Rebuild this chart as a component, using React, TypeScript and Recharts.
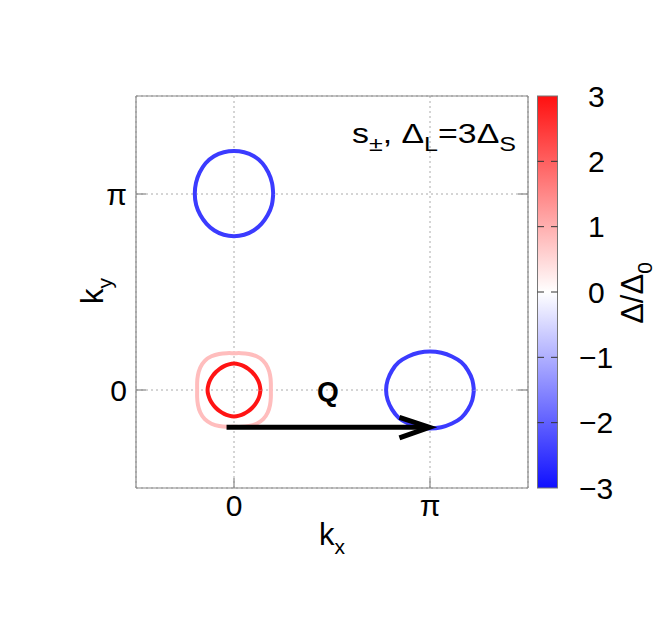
import React from 'react';
import { ScatterChart, Scatter, XAxis, YAxis, CartesianGrid } from 'recharts';

// k values are in units of pi
const upperBluePocket = [
  { kx: 0.2, ky: 1.0 }, { kx: 0.194, ky: 1.057 }, { kx: 0.175, ky: 1.11 }, { kx: 0.145, ky: 1.157 },
  { kx: 0.102, ky: 1.193 }, { kx: 0.052, ky: 1.213 }, { kx: 0, ky: 1.219 }, { kx: -0.052, ky: 1.213 },
  { kx: -0.102, ky: 1.193 }, { kx: -0.145, ky: 1.157 }, { kx: -0.175, ky: 1.11 }, { kx: -0.194, ky: 1.057 },
  { kx: -0.2, ky: 1.0 }, { kx: -0.193, ky: 0.944 }, { kx: -0.172, ky: 0.893 }, { kx: -0.14, ky: 0.848 },
  { kx: -0.1, ky: 0.814 }, { kx: -0.052, ky: 0.792 }, { kx: 0, ky: 0.785 }, { kx: 0.052, ky: 0.792 },
  { kx: 0.1, ky: 0.814 }, { kx: 0.14, ky: 0.848 }, { kx: 0.172, ky: 0.893 }, { kx: 0.193, ky: 0.944 },
  { kx: 0.2, ky: 1.0 },
];

const rightBluePocket = [
  { kx: 1.224, ky: 0 }, { kx: 1.216, ky: 0.051 }, { kx: 1.194, ky: 0.099 }, { kx: 1.16, ky: 0.141 },
  { kx: 1.112, ky: 0.171 }, { kx: 1.058, ky: 0.19 }, { kx: 1.0, ky: 0.197 }, { kx: 0.942, ky: 0.19 },
  { kx: 0.888, ky: 0.171 }, { kx: 0.84, ky: 0.141 }, { kx: 0.806, ky: 0.099 }, { kx: 0.784, ky: 0.051 },
  { kx: 0.776, ky: 0 }, { kx: 0.784, ky: -0.051 }, { kx: 0.806, ky: -0.099 }, { kx: 0.84, ky: -0.141 },
  { kx: 0.888, ky: -0.171 }, { kx: 0.942, ky: -0.19 }, { kx: 1.0, ky: -0.196 }, { kx: 1.058, ky: -0.19 },
  { kx: 1.112, ky: -0.171 }, { kx: 1.16, ky: -0.141 }, { kx: 1.194, ky: -0.099 }, { kx: 1.216, ky: -0.051 },
  { kx: 1.224, ky: 0 },
];

const innerRedPocket = [
  { kx: 0.135, ky: 0 }, { kx: 0.131, ky: 0.026 }, { kx: 0.122, ky: 0.05 }, { kx: 0.108, ky: 0.073 },
  { kx: 0.092, ky: 0.092 }, { kx: 0.073, ky: 0.108 }, { kx: 0.05, ky: 0.122 }, { kx: 0.026, ky: 0.131 },
  { kx: 0, ky: 0.135 }, { kx: -0.026, ky: 0.131 }, { kx: -0.05, ky: 0.122 }, { kx: -0.073, ky: 0.108 },
  { kx: -0.092, ky: 0.092 }, { kx: -0.108, ky: 0.073 }, { kx: -0.122, ky: 0.05 }, { kx: -0.131, ky: 0.026 },
  { kx: -0.135, ky: 0 }, { kx: -0.131, ky: -0.026 }, { kx: -0.122, ky: -0.05 }, { kx: -0.108, ky: -0.073 },
  { kx: -0.092, ky: -0.092 }, { kx: -0.073, ky: -0.108 }, { kx: -0.05, ky: -0.122 }, { kx: -0.026, ky: -0.131 },
  { kx: 0, ky: -0.135 }, { kx: 0.026, ky: -0.131 }, { kx: 0.05, ky: -0.122 }, { kx: 0.073, ky: -0.108 },
  { kx: 0.092, ky: -0.092 }, { kx: 0.108, ky: -0.073 }, { kx: 0.122, ky: -0.05 }, { kx: 0.131, ky: -0.026 },
  { kx: 0.135, ky: 0 },
];

const outerPinkPocket = [
  { kx: 0.188, ky: 0 }, { kx: 0.188, ky: 0.037 }, { kx: 0.184, ky: 0.076 }, { kx: 0.172, ky: 0.115 },
  { kx: 0.149, ky: 0.149 }, { kx: 0.115, ky: 0.172 }, { kx: 0.076, ky: 0.184 }, { kx: 0.037, ky: 0.188 },
  { kx: 0, ky: 0.188 }, { kx: -0.037, ky: 0.188 }, { kx: -0.076, ky: 0.184 }, { kx: -0.115, ky: 0.172 },
  { kx: -0.149, ky: 0.149 }, { kx: -0.172, ky: 0.115 }, { kx: -0.184, ky: 0.076 }, { kx: -0.188, ky: 0.037 },
  { kx: -0.188, ky: 0 }, { kx: -0.188, ky: -0.037 }, { kx: -0.184, ky: -0.076 }, { kx: -0.172, ky: -0.115 },
  { kx: -0.149, ky: -0.149 }, { kx: -0.115, ky: -0.172 }, { kx: -0.076, ky: -0.184 }, { kx: -0.037, ky: -0.188 },
  { kx: 0, ky: -0.188 }, { kx: 0.037, ky: -0.188 }, { kx: 0.076, ky: -0.184 }, { kx: 0.115, ky: -0.172 },
  { kx: 0.149, ky: -0.149 }, { kx: 0.172, ky: -0.115 }, { kx: 0.184, ky: -0.076 }, { kx: 0.188, ky: -0.037 },
  { kx: 0.188, ky: 0 },
];

const arrowShaft = [{ kx: -0.038, ky: -0.19 }, { kx: 0.985, ky: -0.19 }];
const arrowHead = [{ kx: 0.844, ky: -0.14 }, { kx: 0.997, ky: -0.19 }, { kx: 0.844, ky: -0.244 }];

const kTicks = [0, 1];
const kTickLabels = ['0', 'π'];
const colorbarTicks = [3, 2, 1, 0, -1, -2, -3];

const FONT = '"Liberation Sans", Arial, sans-serif';
const FRAME = '#888888';

const noDot = () => <g />;

const BottomTick = (props: any) => {
  const { x, y, payload } = props;
  return (
    <g>
      <line x1={x} y1={y} x2={x} y2={y - 10} stroke={FRAME} strokeWidth={1.2} />
      <text x={x} y={y + 28} textAnchor="middle" fontSize={30} fontFamily={FONT} fill="#000">
        {kTickLabels[kTicks.indexOf(payload.value)]}
      </text>
    </g>
  );
};

const TopTick = (props: any) => (
  <line x1={props.x} y1={props.y} x2={props.x} y2={props.y + 10} stroke={FRAME} strokeWidth={1.2} />
);

const LeftTick = (props: any) => {
  const { x, y, payload } = props;
  return (
    <g>
      <line x1={x} y1={y} x2={x + 10} y2={y} stroke={FRAME} strokeWidth={1.2} />
      <text x={x - 9} y={y + 11} textAnchor="end" fontSize={30} fontFamily={FONT} fill="#000">
        {kTickLabels[kTicks.indexOf(payload.value)]}
      </text>
    </g>
  );
};

const RightTick = (props: any) => (
  <line x1={props.x} y1={props.y} x2={props.x - 10} y2={props.y} stroke={FRAME} strokeWidth={1.2} />
);

const cbTop = 96;
const cbHeight = 392;
const cbY = (v: number) => cbTop + ((3 - v) / 6) * cbHeight;

export default function App() {
  return (
    <div style={{ position: 'absolute', left: 0, top: 0, width: 664, height: 620, background: '#fff' }}>
      <ScatterChart width={664} height={620} margin={{ top: 86, right: 126, bottom: 92, left: 76 }}>
        <CartesianGrid stroke="#aaaaaa" strokeDasharray="2 3" strokeWidth={1} />
        <XAxis
          type="number"
          dataKey="kx"
          domain={[-0.5, 1.5]}
          ticks={kTicks}
          allowDataOverflow
          height={40}
          tickSize={0}
          tickMargin={0}
          tickLine={false}
          axisLine={{ stroke: FRAME, strokeWidth: 1.2 }}
          tick={BottomTick}
        />
        <XAxis
          xAxisId="top"
          orientation="top"
          type="number"
          domain={[-0.5, 1.5]}
          ticks={kTicks}
          allowDataOverflow
          height={10}
          tickSize={0}
          tickMargin={0}
          tickLine={false}
          axisLine={{ stroke: FRAME, strokeWidth: 1.2 }}
          tick={TopTick}
        />
        <YAxis
          type="number"
          dataKey="ky"
          domain={[-0.5, 1.5]}
          ticks={kTicks}
          allowDataOverflow
          width={60}
          tickSize={0}
          tickMargin={0}
          tickLine={false}
          axisLine={{ stroke: FRAME, strokeWidth: 1.2 }}
          tick={LeftTick}
        />
        <YAxis
          yAxisId="right"
          orientation="right"
          type="number"
          domain={[-0.5, 1.5]}
          ticks={kTicks}
          allowDataOverflow
          width={10}
          tickSize={0}
          tickMargin={0}
          tickLine={false}
          axisLine={{ stroke: FRAME, strokeWidth: 1.2 }}
          tick={RightTick}
        />
        <Scatter data={outerPinkPocket} line={{ stroke: '#ffbdbd', strokeWidth: 4 }} lineJointType="natural" shape={noDot} isAnimationActive={false} />
        <Scatter data={innerRedPocket} line={{ stroke: '#ff1414', strokeWidth: 4 }} lineJointType="natural" shape={noDot} isAnimationActive={false} />
        <Scatter data={upperBluePocket} line={{ stroke: '#3b3bff', strokeWidth: 4 }} lineJointType="natural" shape={noDot} isAnimationActive={false} />
        <Scatter data={rightBluePocket} line={{ stroke: '#3b3bff', strokeWidth: 4 }} lineJointType="natural" shape={noDot} isAnimationActive={false} />
        <Scatter data={arrowShaft} line={{ stroke: '#000', strokeWidth: 5 }} shape={noDot} isAnimationActive={false} />
        <Scatter data={arrowHead} line={{ stroke: '#000', strokeWidth: 5 }} shape={noDot} isAnimationActive={false} />
      </ScatterChart>

      <svg width={664} height={620} style={{ position: 'absolute', left: 0, top: 0, pointerEvents: 'none' }} fontFamily={FONT}>
        <defs>
          <linearGradient id="cbGrad" x1="0" y1="0" x2="0" y2="1">
            <stop offset="0" stopColor="#ff1010" />
            <stop offset="0.5" stopColor="#ffffff" />
            <stop offset="1" stopColor="#1010ff" />
          </linearGradient>
        </defs>

        <text x={352} y={143} fontSize={27} fill="#000" textLength={164} lengthAdjust="spacingAndGlyphs">
          s<tspan fontSize={20} dy={8}>±</tspan>
          <tspan dy={-8}>, Δ</tspan>
          <tspan fontSize={20} dy={8}>L</tspan>
          <tspan dy={-8}>=3Δ</tspan>
          <tspan fontSize={20} dy={8}>S</tspan>
        </text>

        <text x={328} y={401} textAnchor="middle" fontSize={28} fontWeight="bold" fill="#000">Q</text>

        <text x={332} y={545} textAnchor="middle" fontSize={31} fill="#000">
          k<tspan fontSize={21} dy={9}>x</tspan>
        </text>
        <text transform="translate(103,291) rotate(-90)" textAnchor="middle" fontSize={31} fill="#000">
          k<tspan fontSize={21} dy={9}>y</tspan>
        </text>

        <rect x={537.5} y={cbTop} width={20} height={cbHeight} fill="url(#cbGrad)" stroke="#777" strokeWidth={1} />
        {colorbarTicks.map((v) => (
          <g key={v}>
            {v !== 3 && v !== -3 && (
              <>
                <line x1={537.5} y1={cbY(v)} x2={544} y2={cbY(v)} stroke="#333" strokeWidth={1} />
                <line x1={551} y1={cbY(v)} x2={557.5} y2={cbY(v)} stroke="#333" strokeWidth={1} />
              </>
            )}
            <text x={v < 0 ? 579 : 588} y={cbY(v) + 10.5} fontSize={30} fill="#000">
              {v < 0 ? `−${-v}` : `${v}`}
            </text>
          </g>
        ))}
        <text transform="translate(643,293) rotate(-90)" textAnchor="middle" fontSize={31} fill="#000">
          Δ/Δ<tspan fontSize={21} dy={9}>0</tspan>
        </text>
      </svg>
    </div>
  );
}
